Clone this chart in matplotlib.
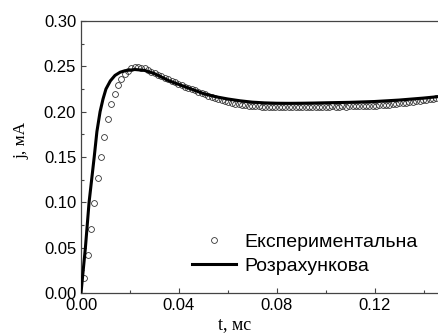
import numpy as np
import matplotlib
matplotlib.use('Agg')
import matplotlib.pyplot as plt
import matplotlib.ticker as ticker

plt.rcParams['font.family'] = 'Liberation Sans'

# experimental points (sampled every dt ms)
dt = 0.00137
j_exp = [0.017, 0.042, 0.071, 0.099, 0.127, 0.150, 0.172, 0.192, 0.208, 0.220,
         0.229, 0.236, 0.2415, 0.245, 0.248, 0.2496, 0.2495, 0.2487, 0.2477, 0.2455,
         0.2440, 0.2425, 0.2408, 0.2392, 0.2375, 0.2358, 0.2340, 0.2322, 0.2305, 0.2290,
         0.2275, 0.2262, 0.2248, 0.2235, 0.2220, 0.2206, 0.2192, 0.2178, 0.2165, 0.2152,
         0.2140, 0.2128, 0.2117, 0.2107, 0.2098, 0.2090, 0.2083, 0.2077, 0.2072, 0.2068,
         0.2064, 0.2060, 0.2058, 0.2056, 0.2054, 0.2055, 0.2053, 0.2052, 0.2054, 0.2052,
         0.2051, 0.2053, 0.2052, 0.2050, 0.2052, 0.2054, 0.2051, 0.2053, 0.2055, 0.2052,
         0.2054, 0.2056, 0.2053, 0.2055, 0.2057, 0.2054, 0.2056, 0.2058, 0.2056, 0.2058,
         0.2060, 0.2059, 0.2061, 0.2063, 0.2062, 0.2065, 0.2066, 0.2068, 0.2071, 0.2073,
         0.2076, 0.2079, 0.2083, 0.2087, 0.2091, 0.2095, 0.2100, 0.2104, 0.2109, 0.2114,
         0.2119, 0.2124, 0.2130, 0.2136, 0.2142, 0.2147]
t_exp = dt * np.arange(1, len(j_exp) + 1)

# calculated curve
t_calc = [0.0, 0.0009, 0.0018, 0.0033, 0.0054, 0.0065, 0.0078, 0.0090, 0.0102, 0.0120,
          0.0139, 0.016, 0.018, 0.022, 0.026, 0.030, 0.036, 0.040, 0.045, 0.050,
          0.055, 0.060, 0.065, 0.070, 0.075, 0.080, 0.085, 0.090, 0.095, 0.100,
          0.110, 0.120, 0.130, 0.140, 0.1457]
j_calc = [0.0, 0.025, 0.050, 0.100, 0.150, 0.178, 0.200, 0.214, 0.225, 0.234,
          0.240, 0.2435, 0.2452, 0.2465, 0.2455, 0.2420, 0.2340, 0.2300, 0.2250, 0.2200,
          0.2165, 0.2140, 0.2120, 0.2105, 0.2097, 0.2093, 0.2092, 0.2093, 0.2095, 0.2098,
          0.2103, 0.2112, 0.2128, 0.2150, 0.2165]

fig = plt.figure(figsize=(4.38, 3.34), dpi=100)
ax = fig.add_axes([81/438, 1 - 293/334, 367/438, 272/334])

ax.plot(t_exp, j_exp, 'o', markersize=4.2, markerfacecolor='none', markeredgecolor='#333333',
        markeredgewidth=0.6, label='Експериментальна', zorder=2)
ax.plot(t_calc, j_calc, '-', color='k', linewidth=2.2, label='Розрахункова', zorder=3)

ax.set_xlim(0, 0.15)
ax.set_ylim(0, 0.30)
ax.xaxis.set_major_locator(ticker.MultipleLocator(0.04))
ax.xaxis.set_minor_locator(ticker.MultipleLocator(0.02))
ax.yaxis.set_major_locator(ticker.MultipleLocator(0.05))
ax.yaxis.set_minor_locator(ticker.MultipleLocator(0.025))
ax.xaxis.set_major_formatter(ticker.FormatStrFormatter('%.2f'))
ax.yaxis.set_major_formatter(ticker.FormatStrFormatter('%.2f'))
ax.tick_params(which='both', direction='in', top=False, right=False, labelsize=12, color='#444444')
ax.tick_params(which='major', length=3.6, width=0.8, pad=3.5)
ax.tick_params(which='minor', length=2.2, width=0.8)
for s in ax.spines.values():
    s.set_linewidth(0.9)
    s.set_color('#444444')

ax.set_xlabel('t, мс', family='Liberation Serif', fontsize=13)
ax.set_ylabel('j, мА', family='Liberation Serif', fontsize=12.5)
ax.xaxis.set_label_coords(0.418, -0.086)
ax.yaxis.set_label_coords(-0.14, 0.5625)

ax.legend(loc='upper left', bbox_to_anchor=(0.3025, 0.2206), frameon=False, fontsize=14,
          numpoints=1, handlelength=2.27, handletextpad=0.4, labelspacing=0.34,
          borderpad=0, borderaxespad=0)

plt.savefig('out.png', dpi=100)
plt.close()
